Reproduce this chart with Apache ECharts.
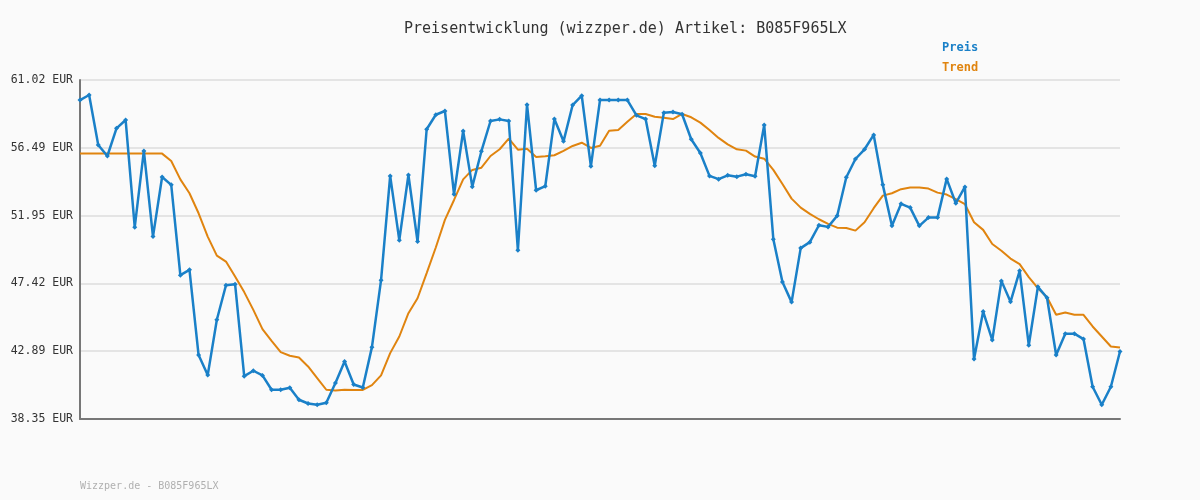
<!DOCTYPE html>
<html>
<head>
<meta charset="utf-8">
<title>Preisentwicklung B085F965LX</title>
<script src="https://cdn.jsdelivr.net/npm/echarts@6/dist/echarts.min.js"></script>
<style>
  html, body { margin: 0; padding: 0; background: #fafafa; }
  #chart { width: 1200px; height: 500px; }
</style>
</head>
<body>
<div id="chart"></div>
<script>
// Preis je Messpunkt
var preis = [
  59.68, 60.02, 56.68, 55.94, 57.79, 58.35, 51.18, 56.28, 50.55, 54.54,
  54.01, 47.97, 48.33, 42.63, 41.29, 44.99, 47.30, 47.37, 41.22, 41.58,
  41.27, 40.31, 40.31, 40.44, 39.64, 39.39, 39.31, 39.44, 40.76, 42.20,
  40.66, 40.46, 43.16, 47.64, 54.61, 50.31, 54.67, 50.22, 57.73, 58.70,
  58.95, 53.38, 57.61, 53.89, 56.26, 58.28, 58.39, 58.28, 49.64, 59.37,
  53.65, 53.92, 58.41, 56.92, 59.35, 59.97, 55.25, 59.68, 59.68, 59.68,
  59.68, 58.66, 58.41, 55.29, 58.84, 58.88, 58.73, 57.06, 56.14, 54.61,
  54.39, 54.65, 54.56, 54.72, 54.59, 58.01, 50.38, 47.52, 46.17, 49.78,
  50.18, 51.31, 51.20, 51.95, 54.52, 55.74, 56.39, 57.35, 54.01, 51.27,
  52.74, 52.49, 51.27, 51.82, 51.82, 54.41, 52.78, 53.87, 42.36, 45.54,
  43.63, 47.59, 46.19, 48.26, 43.29, 47.19, 46.46, 42.63, 44.06, 44.06,
  43.70, 40.51, 39.31, 40.51, 42.87
];
// Trendlinie
var trend = [
  56.10, 56.10, 56.10, 56.10, 56.10, 56.10, 56.10, 56.10, 56.10, 56.10,
  55.61, 54.38, 53.45, 52.11, 50.55, 49.28, 48.88, 47.88, 46.84, 45.65,
  44.36, 43.58, 42.83, 42.58, 42.47, 41.87, 41.09, 40.31, 40.26, 40.31,
  40.30, 40.30, 40.62, 41.27, 42.76, 43.87, 45.43, 46.43, 48.11, 49.82,
  51.67, 53.00, 54.38, 55.01, 55.16, 55.94, 56.39, 57.10, 56.36, 56.43,
  55.88, 55.92, 55.99, 56.28, 56.61, 56.83, 56.48, 56.62, 57.63, 57.68,
  58.23, 58.75, 58.75, 58.57, 58.50, 58.41, 58.75, 58.53, 58.17, 57.68,
  57.15, 56.72, 56.39, 56.30, 55.90, 55.76, 55.01, 54.07, 53.09, 52.49,
  52.07, 51.71, 51.40, 51.15, 51.13, 50.95, 51.51, 52.45, 53.29, 53.45,
  53.72, 53.83, 53.83, 53.76, 53.49, 53.36, 53.05, 52.72, 51.51, 51.00,
  50.06, 49.60, 49.08, 48.71, 47.84, 47.10, 46.50, 45.32, 45.47, 45.32,
  45.32, 44.54, 43.87, 43.20, 43.14
];
// Y-Achse Ticks (EUR)
var yTicks = [38.354, 42.8876, 47.4212, 51.9548, 56.4884, 61.022];

var tage = [];
for (var i = 1; i <= preis.length; i++) tage.push(String(i));

var mono = 'DejaVu Sans Mono';
var myChart = echarts.init(document.getElementById('chart'));
myChart.setOption({
  animation: false,
  backgroundColor: '#fafafa',
  title: {
    text: 'Preisentwicklung (wizzper.de) Artikel: B085F965LX',
    left: 399,
    top: 17,
    textStyle: { fontFamily: mono, fontSize: 15, fontWeight: 'normal', color: '#333' }
  },
  legend: {
    orient: 'vertical',
    left: 937,
    top: 37,
    icon: 'none',
    itemWidth: 0,
    itemHeight: 12,
    itemGap: 8,
    selectedMode: false,
    data: [
      { name: 'Preis', textStyle: { color: '#1a80c8' } },
      { name: 'Trend', textStyle: { color: '#e0840f' } }
    ],
    textStyle: { fontFamily: mono, fontSize: 12, fontWeight: 'bold', padding: [0, 0, 0, -5] }
  },
  graphic: [{
    type: 'text',
    left: 80,
    top: 481,
    style: { text: 'Wizzper.de - B085F965LX', font: '10px ' + mono, fill: '#b0b0b0' }
  }],
  grid: { left: 80, right: 80, top: 80, bottom: 81 },
  xAxis: {
    type: 'category',
    data: tage,
    boundaryGap: false,
    axisLine: { lineStyle: { color: '#777', width: 2 } },
    axisTick: { show: false },
    axisLabel: { show: false },
    splitLine: { show: false }
  },
  yAxis: {
    type: 'value',
    min: yTicks[0],
    max: yTicks[yTicks.length - 1],
    axisLine: { show: true, lineStyle: { color: '#777', width: 2 } },
    axisTick: { show: false, customValues: yTicks },
    axisLabel: {
      customValues: yTicks,
      margin: 7,
      fontFamily: mono,
      fontSize: 11.5,
      color: '#333',
      formatter: function (v) { return v.toFixed(2) + ' EUR'; }
    },
    splitLine: { show: true, lineStyle: { color: '#e4e4e4', width: 2 } }
  },
  series: [{
    name: 'Preis',
    type: 'line',
    data: preis,
    showAllSymbol: true,
    symbol: 'diamond',
    symbolSize: 5,
    itemStyle: { color: '#1a80c8' },
    lineStyle: { color: '#1a80c8', width: 2.5 },
    z: 3
  }, {
    name: 'Trend',
    type: 'line',
    data: trend,
    showSymbol: false,
    itemStyle: { color: '#e0840f' },
    lineStyle: { color: '#e0840f', width: 2 },
    z: 2
  }]
});
</script>
</body>
</html>
